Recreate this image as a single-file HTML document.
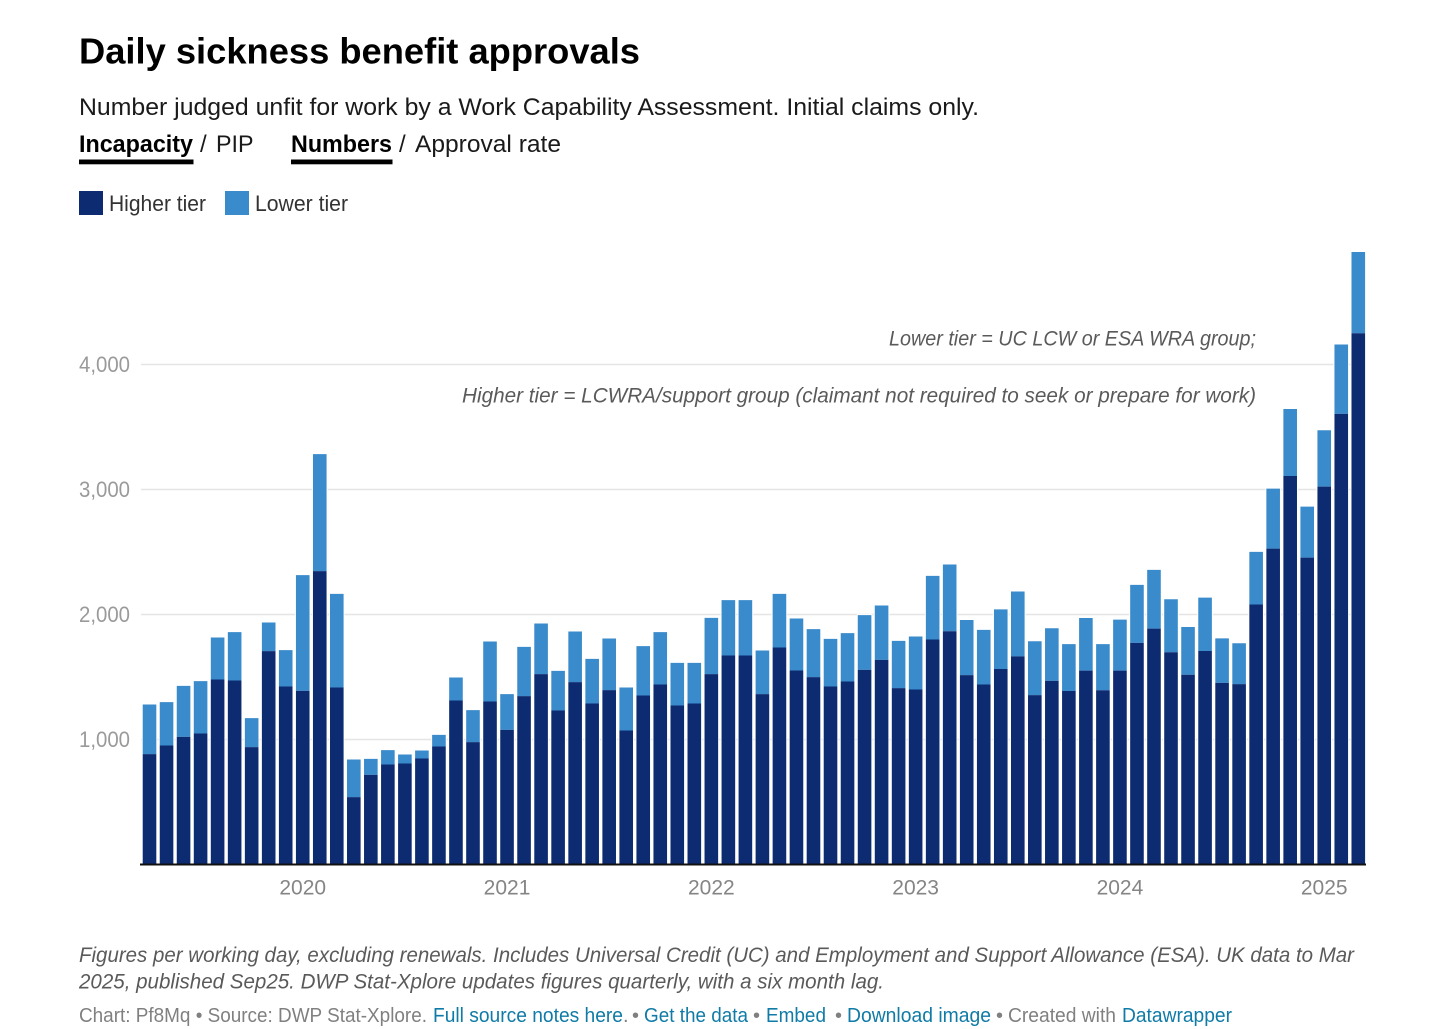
<!DOCTYPE html>
<html lang="en">
<head>
<meta charset="utf-8">
<title>Daily sickness benefit approvals</title>
<style>
html,body{margin:0;padding:0;background:#fff;width:1456px;height:1029px;overflow:hidden}
svg{display:block}
text{font-family:"Liberation Sans",Arial,sans-serif}
.sub{font-size:24px;fill:#1a1a1a}
.legend{font-size:22px;fill:#333}
.note{font-size:21.5px;font-style:italic;fill:#5a5a5a}
.foot{font-size:21px;font-style:italic;fill:#5a5a5a}
.by{font-size:20px;fill:#808080}
.link{font-size:20px;fill:#0f7ba6;cursor:pointer}
.tab{cursor:pointer}
</style>
</head>
<body>
<svg id="chart" xmlns="http://www.w3.org/2000/svg" width="1456" height="1029" viewBox="0 0 1456 1029">
  <rect x="0" y="0" width="1456" height="1029" fill="#ffffff"/>

  <text x="79" y="63.3" font-size="36.5" font-weight="700" fill="#000" textLength="561" lengthAdjust="spacingAndGlyphs">Daily sickness benefit approvals</text>
  <text class="sub" x="79" y="115" textLength="900" lengthAdjust="spacingAndGlyphs">Number judged unfit for work by a Work Capability Assessment. Initial claims only.</text>

  <text class="sub tab" x="79" y="152" font-weight="700" fill="#000" style="fill:#000" textLength="114" lengthAdjust="spacingAndGlyphs">Incapacity</text>
  <rect x="79" y="159.5" width="114.5" height="4.8" fill="#000"/>
  <text class="sub" x="200" y="152">/</text>
  <text class="sub tab" x="216" y="152" textLength="37.5" lengthAdjust="spacingAndGlyphs">PIP</text>

  <text class="sub tab" x="291" y="152" font-weight="700" style="fill:#000" textLength="101" lengthAdjust="spacingAndGlyphs">Numbers</text>
  <rect x="291" y="159.5" width="101.5" height="4.8" fill="#000"/>
  <text class="sub" x="399" y="152">/</text>
  <text class="sub tab" x="415" y="152" textLength="146" lengthAdjust="spacingAndGlyphs">Approval rate</text>

  <rect x="79" y="191" width="24" height="24" fill="#0d2b70"/>
  <text class="legend" x="109" y="211" textLength="97" lengthAdjust="spacingAndGlyphs">Higher tier</text>
  <rect x="225" y="191" width="24" height="24" fill="#3a8bcb"/>
  <text class="legend" x="255" y="211" textLength="93" lengthAdjust="spacingAndGlyphs">Lower tier</text>

  <g id="grid"></g>
  <g id="bars"></g>
  <g id="axis"></g>

  <text class="note" x="889" y="345.5" textLength="367" lengthAdjust="spacingAndGlyphs">Lower tier = UC LCW or ESA WRA group;</text>
  <text class="note" x="462" y="402.5" textLength="794" lengthAdjust="spacingAndGlyphs">Higher tier = LCWRA/support group (claimant not required to seek or prepare for work)</text>

  <text class="foot" x="79" y="962" textLength="1275" lengthAdjust="spacingAndGlyphs">Figures per working day, excluding renewals. Includes Universal Credit (UC) and Employment and Support Allowance (ESA). UK data to Mar</text>
  <text class="foot" x="79" y="988.3" textLength="805" lengthAdjust="spacingAndGlyphs">2025, published Sep25. DWP Stat-Xplore updates figures quarterly, with a six month lag.</text>

  <text class="by" x="79" y="1022" textLength="348" lengthAdjust="spacingAndGlyphs">Chart: Pf8Mq • Source: DWP Stat-Xplore.</text>
  <text class="link" x="433" y="1022" textLength="190" lengthAdjust="spacingAndGlyphs">Full source notes here</text>
  <text class="by" x="623" y="1022">.</text>
  <text class="by" x="632" y="1022">•</text>
  <text class="link" x="644" y="1022" textLength="104" lengthAdjust="spacingAndGlyphs">Get the data</text>
  <text class="by" x="753" y="1022">•</text>
  <text class="link" x="766" y="1022" textLength="60" lengthAdjust="spacingAndGlyphs">Embed</text>
  <text class="by" x="835" y="1022">•</text>
  <text class="link" x="847" y="1022" textLength="144" lengthAdjust="spacingAndGlyphs">Download image</text>
  <text class="by" x="996" y="1022">•</text>
  <text class="by" x="1008" y="1022" textLength="108" lengthAdjust="spacingAndGlyphs">Created with</text>
  <text class="link" x="1122" y="1022" textLength="110" lengthAdjust="spacingAndGlyphs">Datawrapper</text>
</svg>

<script>
const categories = [
  "2019-04","2019-05","2019-06","2019-07","2019-08","2019-09","2019-10","2019-11","2019-12",
  "2020-01","2020-02","2020-03","2020-04","2020-05","2020-06","2020-07","2020-08","2020-09","2020-10","2020-11","2020-12",
  "2021-01","2021-02","2021-03","2021-04","2021-05","2021-06","2021-07","2021-08","2021-09","2021-10","2021-11","2021-12",
  "2022-01","2022-02","2022-03","2022-04","2022-05","2022-06","2022-07","2022-08","2022-09","2022-10","2022-11","2022-12",
  "2023-01","2023-02","2023-03","2023-04","2023-05","2023-06","2023-07","2023-08","2023-09","2023-10","2023-11","2023-12",
  "2024-01","2024-02","2024-03","2024-04","2024-05","2024-06","2024-07","2024-08","2024-09","2024-10","2024-11","2024-12",
  "2025-01","2025-02","2025-03"
];
const higherTier = [
  883,952,1021,1048,1480,1472,939,1707,1424,1389,2347,1416,
  539,717,800,808,848,944,1312,979,1304,1077,1347,1523,
  1232,1459,1288,1395,1072,1352,1440,1272,1288,1523,1672,1672,
  1363,1736,1552,1499,1424,1464,1557,1637,1411,1400,1800,1866,
  1515,1440,1564,1665,1355,1469,1388,1551,1394,1551,1773,1887,
  1698,1518,1708,1453,1443,2080,2527,3108,2455,3023,3605,4250
];
const lowerTier = [
  397,347,408,419,336,387,232,229,291,926,936,749,
  301,128,115,72,64,93,184,256,480,286,394,405,
  317,405,357,413,344,395,419,341,325,450,443,443,
  349,429,416,384,381,387,438,435,378,424,509,534,
  441,437,477,519,431,421,375,421,369,408,464,470,
  424,382,427,356,327,421,480,536,408,451,555,650
];
const yTicks = [1000,2000,3000,4000];
const yTickLabels = ["1,000","2,000","3,000","4,000"];
const xTicks = ["2020-01","2021-01","2022-01","2023-01","2024-01","2025-01"];
const xTickLabels = ["2020","2021","2022","2023","2024","2025"];

const NS = "http://www.w3.org/2000/svg";
const plot = {left:141, right:1366, bottom:864.5, pxPerUnit:0.125};
const band = 17.025;
const barWidth = 13.6;
function xPos(cat){ return plot.left + categories.indexOf(cat) * band; }
function yPos(v){ return plot.bottom - v * plot.pxPerUnit; }
function svgEl(tag, attrs){
  const el = document.createElementNS(NS, tag);
  for (const k in attrs) el.setAttribute(k, attrs[k]);
  return el;
}

const grid = document.getElementById("grid");
const bars = document.getElementById("bars");
const axis = document.getElementById("axis");

yTicks.forEach(function(v, i){
  const line = svgEl("line", {x1:plot.left, x2:plot.right, y1:yPos(v), y2:yPos(v), stroke:"#e5e5e5", "stroke-width":1.5});
  
  
  grid.appendChild(line);
  const label = svgEl("text", {x:79, y:yPos(v)+7.5, "font-size":22, fill:"#9a9a9a", textLength:51, lengthAdjust:"spacingAndGlyphs"});
  
  
  label.textContent = yTickLabels[i];
  axis.appendChild(label);
});

categories.forEach(function(cat, i){
  const x = xPos(cat) + (band - barWidth) / 2;
  const total = higherTier[i] + lowerTier[i];
  const halo = svgEl("rect", {x:x-1, y:yPos(total)-1, width:barWidth+2, height:plot.bottom-yPos(total)+1, fill:"#ffffff"});
  
  
  bars.appendChild(halo);
  const low = svgEl("rect", {x:x, y:yPos(total), width:barWidth, height:yPos(higherTier[i])-yPos(total), fill:"#3a8bcb"});
  
  
  bars.appendChild(low);
  const high = svgEl("rect", {x:x, y:yPos(higherTier[i]), width:barWidth, height:plot.bottom-yPos(higherTier[i]), fill:"#0d2b70"});
  
  
  bars.appendChild(high);
});

const base = svgEl("line", {x1:plot.left-1, x2:plot.right, y1:plot.bottom, y2:plot.bottom, stroke:"#111111", "stroke-width":2});


axis.appendChild(base);

xTicks.forEach(function(cat, i){
  const label = svgEl("text", {x:xPos(cat)+band/2, y:894.5, "font-size":21, fill:"#858585", "text-anchor":"middle"});
  
  
  label.textContent = xTickLabels[i];
  axis.appendChild(label);
});
</script>
</body>
</html>
